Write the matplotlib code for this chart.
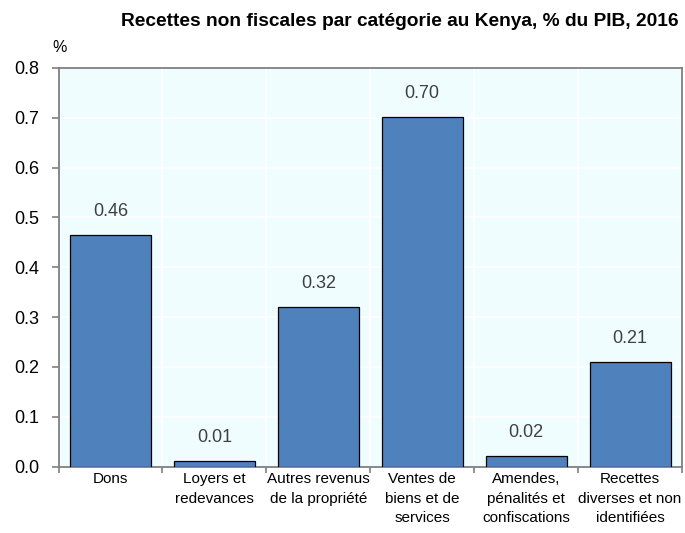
import matplotlib
matplotlib.use("Agg")
import matplotlib.pyplot as plt
import numpy as np

categories = [
    "Dons",
    "Loyers et\nredevances",
    "Autres revenus\nde la propriété",
    "Ventes de\nbiens et de\nservices",
    "Amendes,\npénalités et\nconfiscations",
    "Recettes\ndiverses et non\nidentifiées",
]
values = [0.465, 0.011, 0.321, 0.701, 0.021, 0.209]
value_labels = ["0.46", "0.01", "0.32", "0.70", "0.02", "0.21"]
y_ticks = [0.0, 0.1, 0.2, 0.3, 0.4, 0.5, 0.6, 0.7, 0.8]

plt.rcParams["font.family"] = ["Liberation Sans", "DejaVu Sans"]

fig = plt.figure(figsize=(6.85, 5.33), dpi=100)
ax = fig.add_axes([58.5 / 685, 1 - 466.5 / 533, (682 - 58.5) / 685, (466.5 - 68) / 533])
ax.set_facecolor("#f0fdff")

x = np.arange(len(categories))
ax.bar(x, values, width=0.78, color="#4f81bd", edgecolor="black", linewidth=0.9, zorder=3)

# value labels above bars
for xi, v, lab in zip(x, values, value_labels):
    ax.text(xi, v + 0.03, lab, ha="center", va="bottom", fontsize=13, color="#404040", zorder=4)

ax.set_xlim(-0.5, len(categories) - 0.5)
ax.set_ylim(0, 0.8)
ax.set_yticks(y_ticks)
ax.set_yticklabels([f"{t:.1f}" for t in y_ticks], fontsize=13)

# gridlines: horizontal at ticks, vertical between categories
for t in y_ticks[1:-1]:
    ax.axhline(t, color="white", linewidth=1.2, zorder=1)
for b in np.arange(0.5, len(categories) - 0.5, 1):
    ax.axvline(b, color="white", linewidth=1.2, zorder=1)

ax.set_xticks(np.arange(-0.5, len(categories) + 0.5, 1))
ax.set_xticklabels([])
ax.set_xticks(x, minor=True)
ax.set_xticklabels(categories, minor=True, fontsize=11, linespacing=1.5)
ax.tick_params(axis="x", which="minor", length=0, pad=4)
ax.tick_params(axis="x", which="major", length=4, color="#808080", direction="out", width=1.2)
ax.tick_params(axis="y", length=5, color="#808080", direction="out", pad=9, width=1.2)

for side in ["left", "bottom", "top", "right"]:
    ax.spines[side].set_color("#808080")
    ax.spines[side].set_linewidth(1.3)

fig.text(400 / 685, 0.975, "Recettes non fiscales par catégorie au Kenya, % du PIB, 2016",
         ha="center", va="top", fontsize=13.8, fontweight="bold")
fig.text(52 / 685, 1 - 47 / 533, "%", ha="left", va="center", fontsize=11.5)

fig.savefig("out.png", dpi=100)
